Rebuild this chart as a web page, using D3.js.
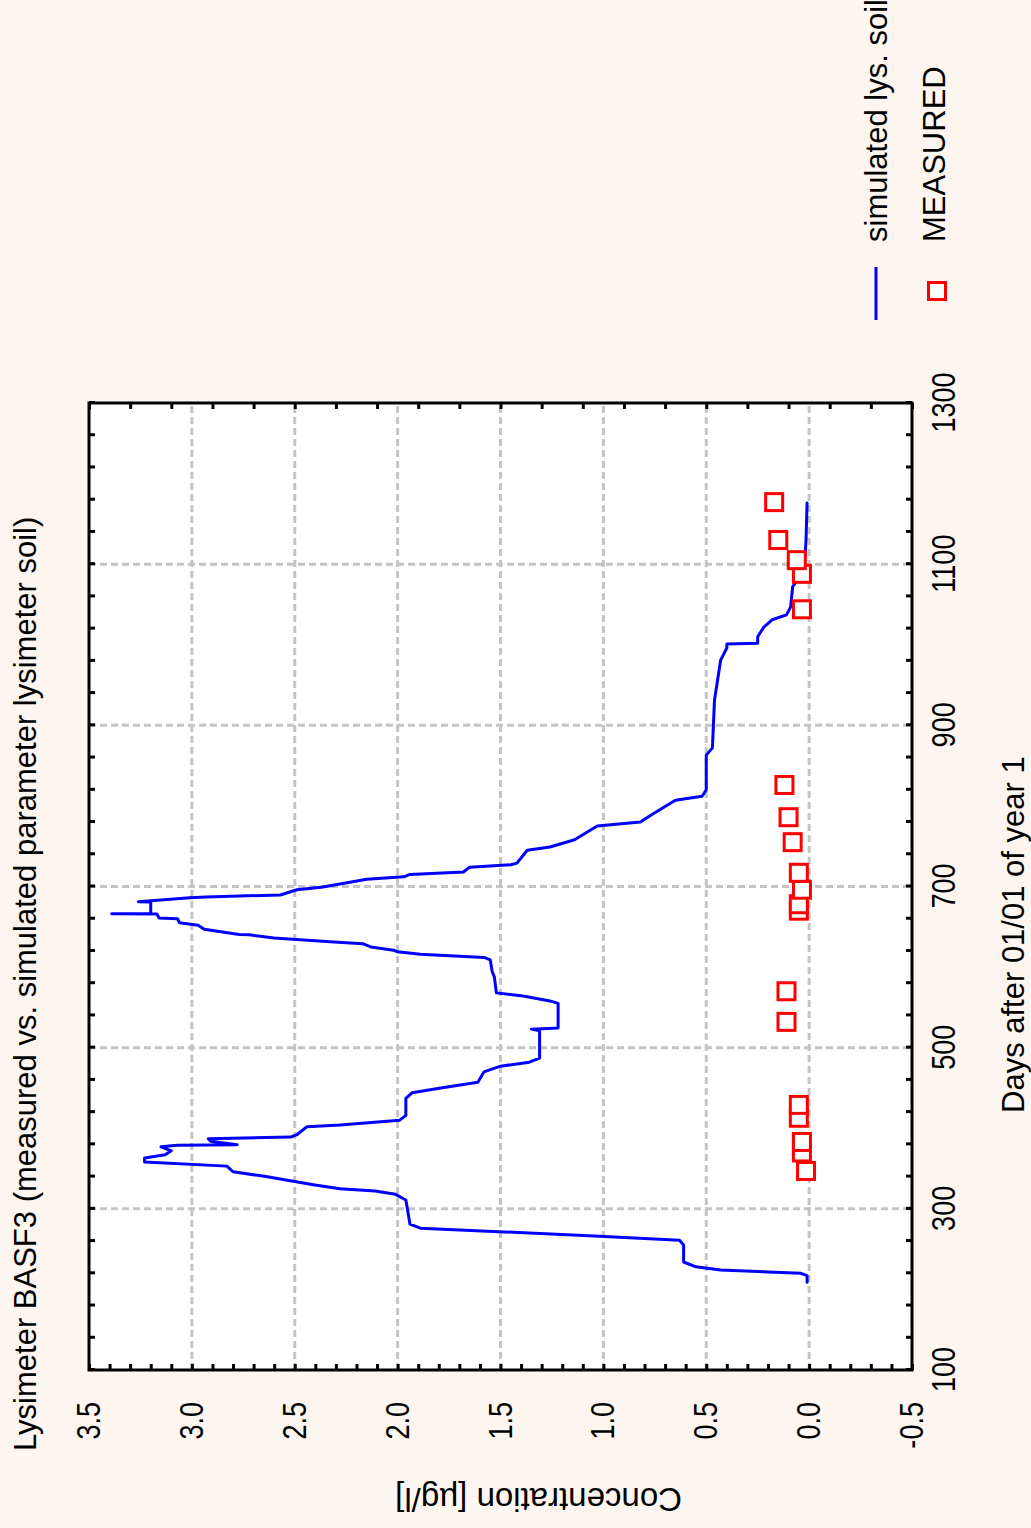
<!DOCTYPE html>
<html>
<meta charset="utf-8">

<head>
    <style>
        body {
            margin: 0;
            background: #fdf6f0;
        }

        svg {
            display: block;
        }

        text {
            font-family: "Liberation Sans", Arial, sans-serif;
            fill: #000;
        }

        .labels text {
            font-size: 33px;
        }

        .labels path,
        .ticks path {
            display: none;
        }

        .ticks line {
            stroke: #000;
            stroke-width: 3;
        }

        .grid line {
            stroke: #c4c4c4;
            stroke-width: 3;
            stroke-dasharray: 7, 4;
        }
    </style>
</head>

<body>
    <script src="https://d3js.org/d3.v7.min.js"></script>

    <script>
        // simulated concentration (days after 01/01 of year 1, ug/l)
        const simDays = [209, 217, 220, 224, 228, 234, 255, 261, 266, 276, 281, 296, 311, 318, 322, 325, 330, 340, 346, 353,
            358, 363, 367, 372, 377, 379, 379.5, 384, 387, 389, 392, 402, 404, 410, 416, 437, 444, 450, 457, 470, 477, 482,
            487, 521, 523, 524.5, 555, 558, 564, 568, 588, 594, 609, 612, 616, 619, 621, 625, 629, 631, 636, 640, 640.5, 647,
            652, 655, 660, 661, 666, 666.3, 666.6, 680.8, 681, 686, 687, 689.5, 696, 699, 709, 712, 715, 718, 724, 727, 729,
            745, 749, 758, 775, 780, 790, 807, 812, 820, 863, 872, 931, 981, 996, 1001, 1002, 1010, 1022, 1031, 1037, 1047,
            1072, 1087, 1109, 1130, 1176];
        const simConc = [0.01, 0.01, 0.04, 0.43, 0.55, 0.61, 0.61, 0.63, 1.02, 1.89, 1.94, 1.95, 1.96, 2.01, 2.11, 2.28, 2.41,
            2.64, 2.80, 2.83, 3.23, 3.23, 3.13, 3.10, 3.15, 3.07, 2.78, 2.91, 2.92, 2.52, 2.49, 2.44, 2.28, 1.99, 1.96, 1.96,
            1.93, 1.79, 1.61, 1.58, 1.50, 1.36, 1.31, 1.31, 1.35, 1.22, 1.22, 1.26, 1.39, 1.52, 1.53, 1.54, 1.55, 1.58, 1.89,
            2.00, 2.02, 2.13, 2.17, 2.31, 2.60, 2.72, 2.77, 2.94, 2.97, 3.06, 3.07, 3.16, 3.17, 3.39, 3.20, 3.20, 3.26, 3.01,
            2.93, 2.57, 2.49, 2.37, 2.15, 1.97, 1.94, 1.68, 1.65, 1.45, 1.42, 1.37, 1.26, 1.14, 1.03, 0.82, 0.76, 0.65, 0.52,
            0.50, 0.50, 0.47, 0.46, 0.43, 0.40, 0.40, 0.25, 0.25, 0.22, 0.18, 0.11, 0.09, 0.08, 0.04, 0.02, 0.015, 0.01];

        // measured concentration
        const measDays = [347, 370, 383, 413, 429, 532, 570, 670, 678, 696, 717, 755, 786, 826, 1044, 1088, 1105, 1130, 1177];
        const measConc = [0.015, 0.035, 0.035, 0.05, 0.05, 0.11, 0.11, 0.05, 0.05, 0.035, 0.05, 0.08, 0.10, 0.12, 0.035,
            0.035, 0.06, 0.15, 0.17];

        const dayTicks = [100, 300, 500, 700, 900, 1100, 1300];
        const concTicks = [-0.5, 0, 0.5, 1, 1.5, 2, 2.5, 3, 3.5];

        const seriesNames = ["simulated lys. soil", "MEASURED"];
        const title = "Lysimeter BASF3 (measured vs. simulated parameter lysimeter soil)";

        // the chart is laid out flat (1528 wide, 1031 high) and turned a quarter left
        var pageW = 1031, pageH = 1528;
        var margin = { top: 89, right: 403, bottom: 119, left: 158 },
            width = pageH - margin.left - margin.right,
            height = pageW - margin.top - margin.bottom;

        var x = d3.scaleLinear().domain([100, 1300]).range([margin.left, margin.left + width]);
        var y = d3.scaleLinear().domain([-0.5, 3.5]).range([margin.top + height, margin.top]);

        var svg = d3.select("body")
            .append("svg")
            .attr("width", pageW)
            .attr("height", pageH);

        svg.append("rect")
            .attr("width", pageW)
            .attr("height", pageH)
            .attr("fill", "#fdf6f0");

        var g = svg.append("g")
            .attr("transform", "translate(0," + pageH + ") rotate(-90)");

        // plot area
        g.append("rect")
            .attr("x", x(100))
            .attr("y", y(3.5))
            .attr("width", width)
            .attr("height", height)
            .attr("fill", "#fff");

        // grid
        var grid = g.append("g").attr("class", "grid");
        grid.selectAll(".gx")
            .data(dayTicks.slice(1, -1))
            .join("line")
            .attr("x1", d => x(d)).attr("x2", d => x(d))
            .attr("y1", y(3.5)).attr("y2", y(-0.5));
        grid.selectAll(".gy")
            .data(concTicks.slice(1, -1))
            .join("line")
            .attr("x1", x(100)).attr("x2", x(1300))
            .attr("y1", d => y(d)).attr("y2", d => y(d));

        // simulated line
        var line = d3.line()
            .x(d => x(d[0]))
            .y(d => y(d[1]));

        g.append("path")
            .datum(d3.zip(simDays, simConc))
            .attr("d", line)
            .attr("fill", "none")
            .attr("stroke", "#0000ff")
            .attr("stroke-width", 3)
            .attr("stroke-linejoin", "round")
            .attr("stroke-linecap", "round");

        // measured squares
        var sq = 17;
        g.selectAll(".meas")
            .data(d3.zip(measDays, measConc))
            .join("rect")
            .attr("x", d => x(d[0]) - sq / 2)
            .attr("y", d => y(d[1]) - sq / 2)
            .attr("width", sq)
            .attr("height", sq)
            .attr("fill", "#fff")
            .attr("stroke", "#ff0000")
            .attr("stroke-width", 3);

        // inward tick marks on all four sides
        var minorDays = d3.range(100, 1301, 40);
        var minorConc = d3.range(-5, 36).map(i => i / 10);
        var topConc = d3.range(-5, 36, 2).map(i => i / 10);

        g.append("g").attr("class", "ticks")
            .attr("transform", "translate(" + x(100) + ",0)")
            .call(d3.axisLeft(y).tickValues(minorConc).tickSize(-6).tickFormat(""));
        g.append("g").attr("class", "ticks")
            .attr("transform", "translate(" + x(1300) + ",0)")
            .call(d3.axisRight(y).tickValues(topConc).tickSize(-6).tickFormat(""));
        g.append("g").attr("class", "ticks")
            .attr("transform", "translate(0," + y(3.5) + ")")
            .call(d3.axisTop(x).tickValues(minorDays).tickSize(-6).tickFormat(""));
        g.append("g").attr("class", "ticks")
            .attr("transform", "translate(0," + y(-0.5) + ")")
            .call(d3.axisBottom(x).tickValues(minorDays).tickSize(-6).tickFormat(""));

        // tick labels (narrow digits, as in the original)
        g.append("g").attr("class", "labels")
            .attr("transform", "translate(0," + y(-0.5) + ")")
            .call(d3.axisBottom(x).tickValues(dayTicks).tickSize(0).tickPadding(20).tickFormat(d => String(d)));
        g.append("g").attr("class", "labels")
            .attr("transform", "translate(" + x(100) + ",0)")
            .call(d3.axisLeft(y).tickValues(concTicks).tickSize(0).tickPadding(32).tickFormat(d => d.toFixed(1)));

        g.selectAll(".labels text").each(function () {
            var w = this.getComputedTextLength();
            d3.select(this)
                .attr("textLength", w * 0.82)
                .attr("lengthAdjust", "spacingAndGlyphs");
        });

        // frame
        g.append("rect")
            .attr("x", x(100))
            .attr("y", y(3.5))
            .attr("width", width)
            .attr("height", height)
            .attr("fill", "none")
            .attr("stroke", "#000")
            .attr("stroke-width", 3);

        // titles
        g.append("text")
            .attr("x", 77)
            .attr("y", 36)
            .style("font-size", "31px")
            .text(title);

        g.append("text")
            .attr("x", 415)
            .attr("y", 1024)
            .style("font-size", "31px")
            .text("Days after 01/01 of year 1");

        g.append("text")
            .attr("transform", "translate(40,682) rotate(-90)")
            .style("font-size", "33px")
            .text("Concentration [µg/l]");

        // legend
        g.append("line")
            .attr("x1", 1208).attr("x2", 1261)
            .attr("y1", 876).attr("y2", 876)
            .attr("stroke", "#0000ff")
            .attr("stroke-width", 3);
        g.append("text")
            .attr("x", 1286).attr("y", 887)
            .style("font-size", "31px")
            .text(seriesNames[0]);
        g.append("rect")
            .attr("x", 1237 - sq / 2).attr("y", 937 - sq / 2)
            .attr("width", sq).attr("height", sq)
            .attr("fill", "#fff")
            .attr("stroke", "#ff0000")
            .attr("stroke-width", 3);
        g.append("text")
            .attr("x", 1286).attr("y", 945)
            .style("font-size", "31px")
            .text(seriesNames[1]);
    </script>

</body>

</html>
